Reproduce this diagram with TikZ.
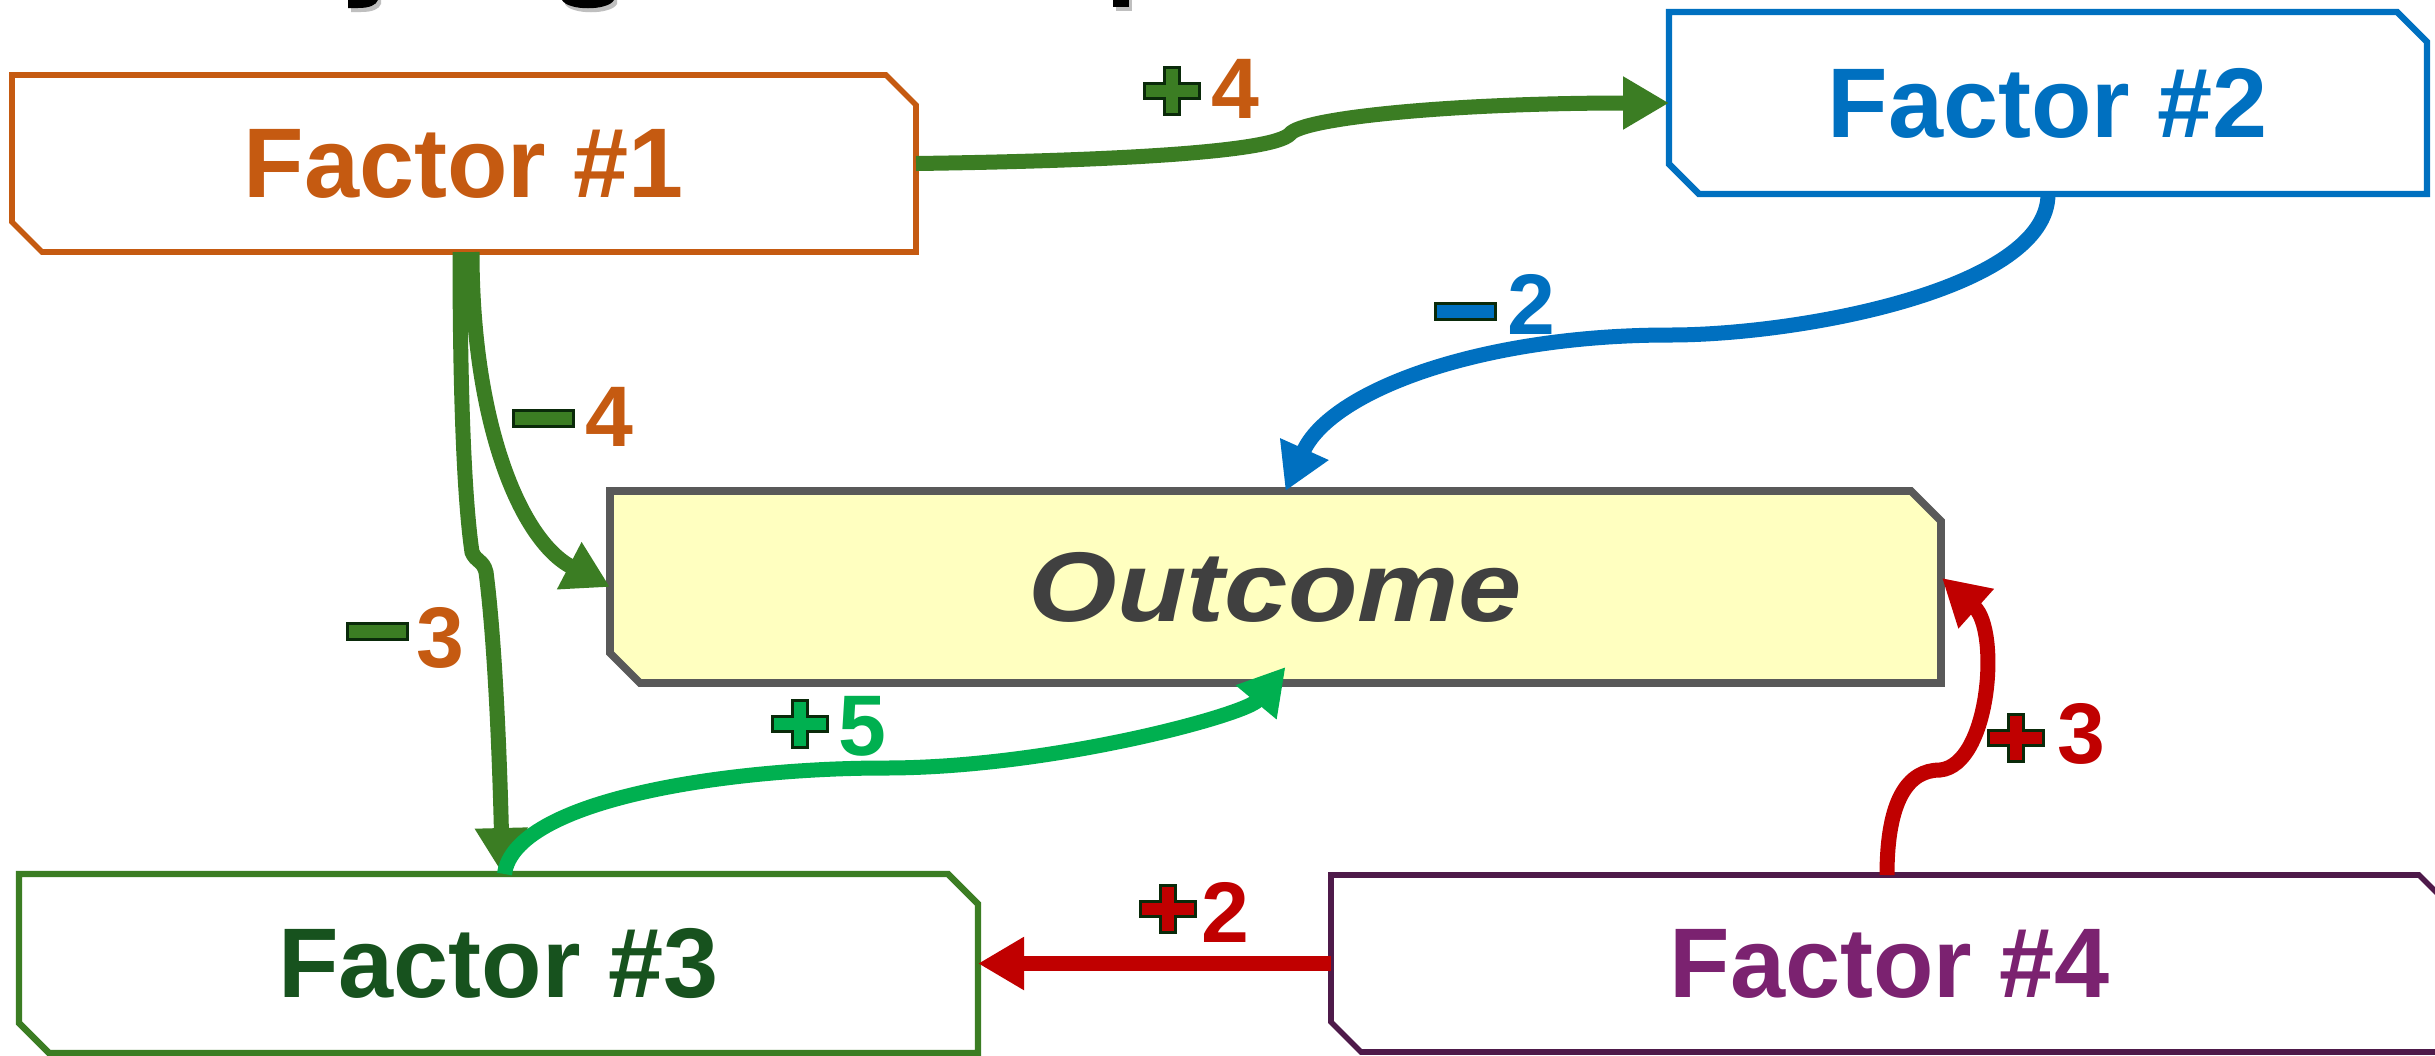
\documentclass[tikz,border=0pt]{standalone}
\usepackage{fontspec}
\setmainfont{Liberation Sans}
\newfontfamily\outfont{Liberation Sans}[FakeStretch=1.15]
\usetikzlibrary{arrows.meta,calc}
\definecolor{orangeA}{HTML}{C55A11}
\definecolor{blueA}{HTML}{0070C0}
\definecolor{grayA}{HTML}{595959}
\definecolor{grayT}{HTML}{404040}
\definecolor{yellowA}{HTML}{FFFFC0}
\definecolor{greenA}{HTML}{3B7D23}
\definecolor{greenT}{HTML}{17521E}
\definecolor{greenB}{HTML}{00B050}
\definecolor{purpleA}{HTML}{4E1A4A}
\definecolor{purpleT}{HTML}{7B2270}
\definecolor{redA}{HTML}{C00000}
\definecolor{signline}{HTML}{0A2A0A}
\pgfdeclarelayer{background}
\pgfdeclarelayer{paper}
\pgfsetlayers{paper,background,main}
\newcommand\chamferbox[2]{%
  \begin{pgfonlayer}{background}
  \draw[#1] (#2.north west) -- ($(#2.north east)+(-30,0)$) -- ($(#2.north east)+(0,30)$)
    -- (#2.south east) -- ($(#2.south west)+(30,0)$) -- ($(#2.south west)+(0,-30)$) -- cycle;
  \end{pgfonlayer}}
\tikzset{
  pics/plusmk/.style={code={\draw[signline, fill=#1, line width=1.5pt, line join=miter]
    (-7.5,-23.5) -- (7.5,-23.5) -- (7.5,-7.5) -- (27.5,-7.5) -- (27.5,7.5) -- (7.5,7.5)
    -- (7.5,23.5) -- (-7.5,23.5) -- (-7.5,7.5) -- (-27.5,7.5) -- (-27.5,-7.5) -- (-7.5,-7.5) -- cycle;}},
  pics/minusmk/.style={code={\draw[signline, fill=#1, line width=1.5pt] (-30,-8) rectangle (30,8);}}
}
\begin{document}
\begin{tikzpicture}[x=0.5pt,y=-0.5pt,
  boxn/.style={rectangle, inner sep=0pt, outer sep=0pt, font=\bfseries\fontsize{49.5pt}{50pt}\selectfont},
  conn/.style={line width=7.5pt, -{Triangle[length=23pt,width=25pt]}},
  digit/.style={inner sep=0pt, anchor=base, font=\bfseries\fontsize{43pt}{44pt}\selectfont}]
\useasboundingbox (0,0) rectangle (2435,1055);
\begin{pgfonlayer}{paper}
\fill[white] (0,0) rectangle (2435,1055);
\end{pgfonlayer}

% cut-off title fragments
\begin{scope}[shift={(3,4)}]
\fill[black!25] (348,-5) -- (378,-5) -- (378,0) .. controls (376,5) and (370,8) .. (358,8) -- (348,8) -- cycle;
\fill[black!25] (562,-5) -- (614,-5) -- (614,0) .. controls (608,11) and (568,11) .. (562,0) -- cycle;
\fill[black!25] (1113,-5) rectangle (1129,7);
\end{scope}
\fill[black] (348,-5) -- (378,-5) -- (378,0) .. controls (376,5) and (370,8) .. (358,8) -- (348,8) -- cycle;
\fill[black] (562,-5) -- (614,-5) -- (614,0) .. controls (608,11) and (568,11) .. (562,0) -- cycle;
\fill[black] (1113,-5) rectangle (1129,7);

% boxes
\node[boxn, minimum width=452pt, minimum height=88.5pt, text=orangeA] (f1) at (464,163.5) {Factor \#1};
\chamferbox{orangeA, fill=white, line width=2.8pt}{f1}
\node[boxn, minimum width=379pt, minimum height=91pt, text=blueA] (f2) at (2048,103) {Factor \#2};
\chamferbox{blueA, fill=white, line width=3.2pt}{f2}
\node[boxn, minimum width=665.5pt, minimum height=96pt, text=grayT, font=\outfont\bfseries\itshape\fontsize{49.5pt}{50pt}\selectfont] (out) at (1275.5,587) {Outcome};
\chamferbox{grayA, fill=yellowA, line width=3.8pt}{out}
\node[boxn, minimum width=479.5pt, minimum height=89.5pt, text=greenT] (f3) at (498.5,963.5) {Factor \#3};
\chamferbox{greenA, fill=white, line width=3.2pt}{f3}
\node[boxn, minimum width=559pt, minimum height=88.5pt, text=purpleT] (f4) at (1890,963.5) {Factor \#4};
\chamferbox{purpleA, fill=white, line width=2.8pt}{f4}

% connectors
\coordinate (k1) at (1290,134);
\coordinate (k2) at (1670,335);
\coordinate (k5) at (885,768);
\coordinate (k7) at (1940,770);
\coordinate (k3a) at (472,552);
\coordinate (k3b) at (486,572);

\draw[conn, greenA] (f1.east) .. controls (1100,161) and (1272,153) .. (k1)
   .. controls (1302,118) and (1450,103) .. (f2.west);
\draw[conn, greenA] ($(f1.south)+(-4,0)$) .. controls +(0,170) and +(-6,-40) .. (k3a)
   .. controls +(4,10) and +(-3,-12) .. (k3b)
   .. controls +(9,70) and +(-3,-120) .. ($(f3.north)+(4,0)$);
\draw[conn, greenA] ($(f1.south)+(8,0)$) .. controls +(0,170) and +(-90,-47) .. (out.west);
\draw[conn, blueA] (f2.south) .. controls +(0,95) and +(130,0) .. (k2)
   .. controls +(-190,0) and +(45,-100) .. ($(out.north)+(10,0)$);
\draw[conn, greenB] ($(f3.north)+(6,0)$) .. controls +(10,-75) and +(-155,0) .. (k5)
   .. controls +(165,0) and +(-40,48) .. ($(out.south)+(10,-16)$);
\draw[conn, redA] ($(f4.north)+(-3,0)$) .. controls +(0,-75) and +(-32,0) .. (k7)
   .. controls +(50,-5) and +(58,52) .. ($(out.east)+(1,-9)$);
\draw[conn, redA] (f4.west) -- (f3.east);

% labels
\pic at (1172,91) {plusmk=greenA};
\node[digit, text=orangeA] (l14) at (1235,118) {4};
\pic at (1465,311.5) {minusmk=blueA};
\node[digit, text=blueA] (l2o) at (1531.5,334) {2};
\pic at (543.5,418.5) {minusmk=greenA};
\node[digit, text=orangeA] (l1o) at (609,446) {4};
\pic at (377,631) {minusmk=greenA};
\node[digit, text=orangeA] (l13) at (440,667) {3};
\pic at (800,724) {plusmk=greenB};
\node[digit, text=greenB] (l3o) at (862,755) {5};
\pic at (2016,737.5) {plusmk=redA};
\node[digit, text=redA] (l4o) at (2081,763) {3};
\pic at (1167.5,909) {plusmk=redA};
\node[digit, text=redA] (l43) at (1225.5,942) {2};
\end{tikzpicture}
\end{document}
